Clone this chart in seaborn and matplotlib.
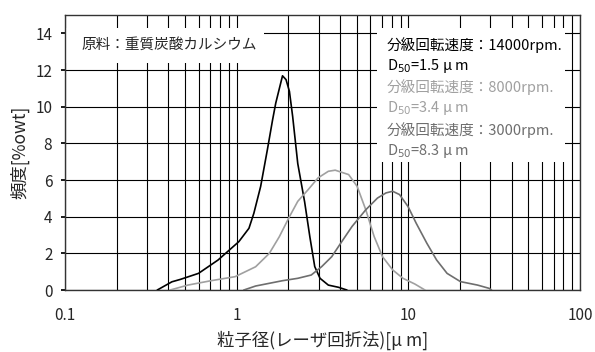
import numpy as np
import pandas as pd
import matplotlib
matplotlib.use("Agg")
import matplotlib.pyplot as plt
from matplotlib.patches import Rectangle
import seaborn as sns

sns.set_theme(style="ticks")
plt.rcParams['font.family'] = ['Noto Sans CJK JP', 'DejaVu Sans']
plt.rcParams['mathtext.fontset'] = 'dejavusans'

# 14000 rpm
x_14000 = [0.345, 0.42, 0.47, 0.60, 0.78, 1.03, 1.18, 1.26, 1.38, 1.51, 1.62, 1.69, 1.85,
           1.94, 2.03, 2.12, 2.27, 2.49, 2.67, 2.85, 3.06, 3.42, 3.92, 4.39]
y_14000 = [0.0, 0.45, 0.58, 0.91, 1.64, 2.64, 3.37, 4.19, 5.65, 7.65, 9.29, 10.2, 11.69,
           11.48, 10.84, 9.47, 6.9, 4.8, 2.9, 1.28, 0.64, 0.27, 0.15, 0.0]
# 8000 rpm
x_8000 = [0.41, 0.52, 0.71, 0.98, 1.29, 1.55, 1.77, 2.03, 2.27, 2.61, 2.98, 3.42, 3.75,
          4.49, 5.03, 5.65, 6.32, 7.07, 8.1, 9.3, 10.9, 12.5]
y_8000 = [0.0, 0.27, 0.51, 0.73, 1.27, 2.0, 2.9, 4.0, 4.84, 5.48, 6.12, 6.48, 6.54,
          6.30, 5.66, 4.38, 2.92, 1.82, 1.10, 0.64, 0.33, 0.0]
# 3000 rpm
x_3000 = [1.10, 1.29, 1.85, 2.27, 2.72, 3.13, 3.58, 4.1, 4.7, 5.65, 6.61, 7.41, 8.1,
          8.88, 9.95, 11.1, 12.8, 14.6, 16.8, 20.1, 25.3, 29.6, 30.5]
y_3000 = [0.0, 0.22, 0.51, 0.64, 0.82, 1.28, 1.82, 2.65, 3.47, 4.38, 5.02, 5.30, 5.39,
          5.21, 4.56, 3.65, 2.56, 1.64, 0.91, 0.46, 0.27, 0.09, 0.0]

series = ["14000", "8000", "3000"]
d50 = ["1.5", "3.4", "8.3"]
colors = ["black", "#a0a0a0", "#6e6e6e"]

df = pd.concat([
    pd.DataFrame({"size": x_14000, "freq": y_14000, "series": series[0]}),
    pd.DataFrame({"size": x_8000, "freq": y_8000, "series": series[1]}),
    pd.DataFrame({"size": x_3000, "freq": y_3000, "series": series[2]}),
])

fig, ax = plt.subplots(figsize=(5.95, 3.52), dpi=100)
fig.subplots_adjust(left=0.109, right=0.975, bottom=0.176, top=0.957)

sns.lineplot(data=df, x="size", y="freq", hue="series", palette=colors,
             sort=False, estimator=None, legend=False, lw=1.2, ax=ax, zorder=3)

ax.set_xscale("log")
ax.set_xlim(0.1, 100)
ax.set_ylim(0, 15)
ax.set_yticks(range(0, 15, 2))
ax.set_xticks([0.1, 1, 10, 100])
ax.set_xticklabels(["0.1", "1", "10", "100"])
ax.grid(which="both", axis="x", color="black", lw=0.8)
ax.grid(which="major", axis="y", color="black", lw=0.8)
ax.tick_params(axis="x", which="both", length=0, labelsize=11, pad=12)
ax.tick_params(axis="y", length=3, labelsize=11, color="black", pad=6)
for s in ax.spines.values():
    s.set_color("#333333")
    s.set_linewidth(1.0)

ax.set_xlabel("粒子径(レーザ回折法)[μ m]", fontsize=12.5, labelpad=5)
ax.set_ylabel("頻度[%owt]", fontsize=12.5, labelpad=4)

# white boxes covering the grid
ax.add_patch(Rectangle((0, 0.825), 0.386, 0.128, transform=ax.transAxes,
                       facecolor="white", edgecolor="none", zorder=2.5))
ax.add_patch(Rectangle((0.606, 0.465), 0.365, 0.488, transform=ax.transAxes,
                       facecolor="white", edgecolor="none", zorder=2.5))

ax.text(0.033, 0.891, "原料：重質炭酸カルシウム", transform=ax.transAxes,
        fontsize=10.5, va="center", ha="left", zorder=4)

ys = [0.891, 0.815, 0.738, 0.662, 0.582, 0.505]
for i in range(3):
    ax.text(0.625, ys[2 * i], "分級回転速度：" + series[i] + "rpm.",
            transform=ax.transAxes, fontsize=10.5, va="center", ha="left",
            color=colors[i], zorder=4)
    ax.text(0.625, ys[2 * i + 1], "D$_{50}$=" + d50[i] + " μ m",
            transform=ax.transAxes, fontsize=10.5, va="center", ha="left",
            color=colors[i], zorder=4)

fig.savefig("out.png", dpi=100)
